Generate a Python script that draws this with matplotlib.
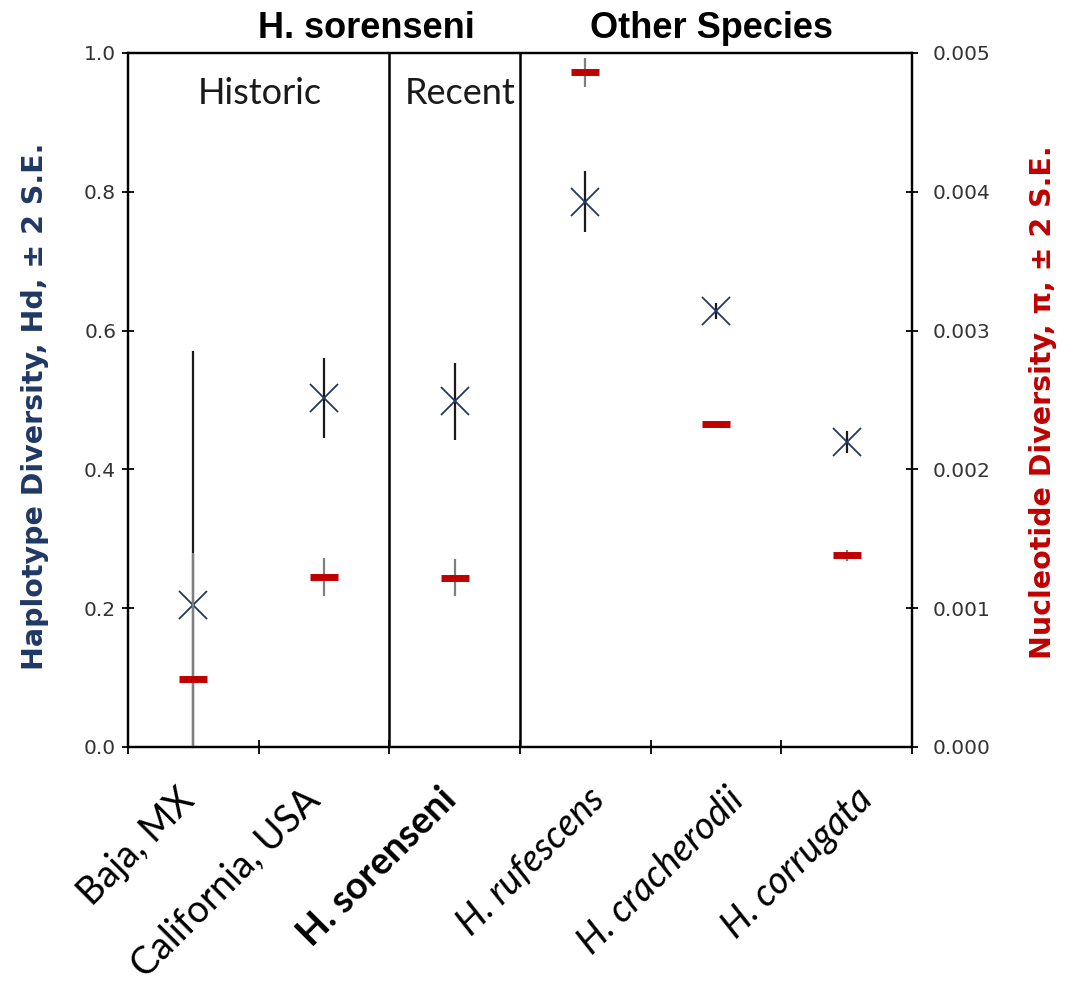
import numpy as np
import matplotlib
matplotlib.use('Agg')
import matplotlib.pyplot as plt
import matplotlib.transforms as mtransforms

# --- data ---
categories = ['Baja, MX', 'California, USA', 'H. sorenseni',
              'H. rufescens', 'H. cracherodii', 'H. corrugata']
hd = [0.205, 0.503, 0.498, 0.786, 0.628, 0.440]
hd_err = [0.365, 0.058, 0.055, 0.044, 0.012, 0.016]
pi = [0.00049, 0.001225, 0.00122, 0.00486, 0.00233, 0.00138]
pi_err = [0.00091, 0.00014, 0.000135, 0.000105, 0.00002, 0.00004]
hd_ticks = [0.0, 0.2, 0.4, 0.6, 0.8, 1.0]
pi_ticks = [0.000, 0.001, 0.002, 0.003, 0.004, 0.005]

W, H = 1065, 985
fig = plt.figure(figsize=(W / 100, H / 100), dpi=100)
ax = fig.add_axes([128 / W, 1 - 747 / H, (912 - 128) / W, (747 - 53) / H])
ax2 = ax.twinx()

x = np.arange(len(categories))

# haplotype diversity
ax.errorbar(x, hd, yerr=hd_err, fmt='none', ecolor='#1a1a1a', elinewidth=1.6, capsize=0)
ax.plot(x, hd, linestyle='none', marker='x', markersize=20, mew=1.3, color='#22385e')
ax.set_ylim(0, 1.0)
ax.set_xlim(-0.5, len(categories) - 0.5)
ax.set_yticks(hd_ticks)
ax.set_yticklabels(['%.1f' % v for v in hd_ticks])

# nucleotide diversity
ax2.errorbar(x, pi, yerr=pi_err, fmt='none', ecolor='#7f7f7f', elinewidth=1.6, capsize=0)
ax2.plot(x, pi, linestyle='none', marker='_', markersize=20, mew=5, color='#c00000')
ax2.set_ylim(0, 0.005)
ax2.set_yticks(pi_ticks)
ax2.set_yticklabels(['%.3f' % v for v in pi_ticks])

# group dividers
for xd in [1.5, 2.5]:
    ax.axvline(xd, color='black', lw=1.8)

# spines / ticks
for a in (ax, ax2):
    for s in a.spines.values():
        s.set_linewidth(1.6)
        s.set_color('black')
ax.tick_params(axis='y', direction='inout', length=9, width=1.3, labelsize=14.5,
               labelcolor='#333333', pad=4)
ax2.tick_params(axis='y', direction='inout', length=9, width=1.3, labelsize=14.5,
                labelcolor='#333333', pad=10)
for lab in ax.get_yticklabels() + ax2.get_yticklabels():
    lab.set_family('DejaVu Sans')

ax.set_xticks(np.arange(-0.5, len(categories)), minor=True)
ax.set_xticks(x)
ax.tick_params(axis='x', which='minor', direction='inout', length=10, width=1.3)
ax.tick_params(axis='x', which='major', length=0, pad=34)
xlabs = ax.set_xticklabels(categories, rotation=45, ha='right', va='center',
                           rotation_mode='anchor', fontsize=27, family='Lato')
# small sideways nudges so the label ends sit like the original
nudge_px = [-4, -10, -4, 14, 22, 20]
for i, lab in enumerate(xlabs):
    if i == 2:
        lab.set_fontweight('bold')
    elif i > 2:
        lab.set_fontstyle('italic')
    off = mtransforms.ScaledTranslation(nudge_px[i] / 100, 0, fig.dpi_scale_trans)
    lab.set_transform(lab.get_transform() + off)

# axis titles
fig.text(35 / W, 1 - 406 / H, 'Haplotype Diversity, Hd, \u00b1 2 S.E.', rotation=90,
         ha='center', va='center', fontsize=20.5, fontweight='bold', color='#1f3864',
         family=['Liberation Sans Narrow', 'DejaVu Sans'])
fig.text(1043 / W, 1 - 402 / H, 'Nucleotide Diversity, \u03c0, \u00b1 2 S.E.', rotation=90,
         ha='center', va='center', fontsize=20.5, fontweight='bold', color='#c00000',
         family=['Liberation Sans Narrow', 'DejaVu Sans'])

# group headers
fig.text(366 / W, 1 - 28 / H, 'H. sorenseni', ha='center', va='center',
         fontsize=26, fontweight='bold', family='Liberation Sans')
fig.text(712 / W, 1 - 28 / H, 'Other Species', ha='center', va='center',
         fontsize=26, fontweight='bold', family='Liberation Sans')
fig.text(260 / W, 1 - 93 / H, 'Historic', ha='center', va='center',
         fontsize=26, family='Lato', color='#1a1a1a')
fig.text(460 / W, 1 - 93 / H, 'Recent', ha='center', va='center',
         fontsize=26, family='Lato', color='#1a1a1a')

fig.savefig('out.png', dpi=100)
